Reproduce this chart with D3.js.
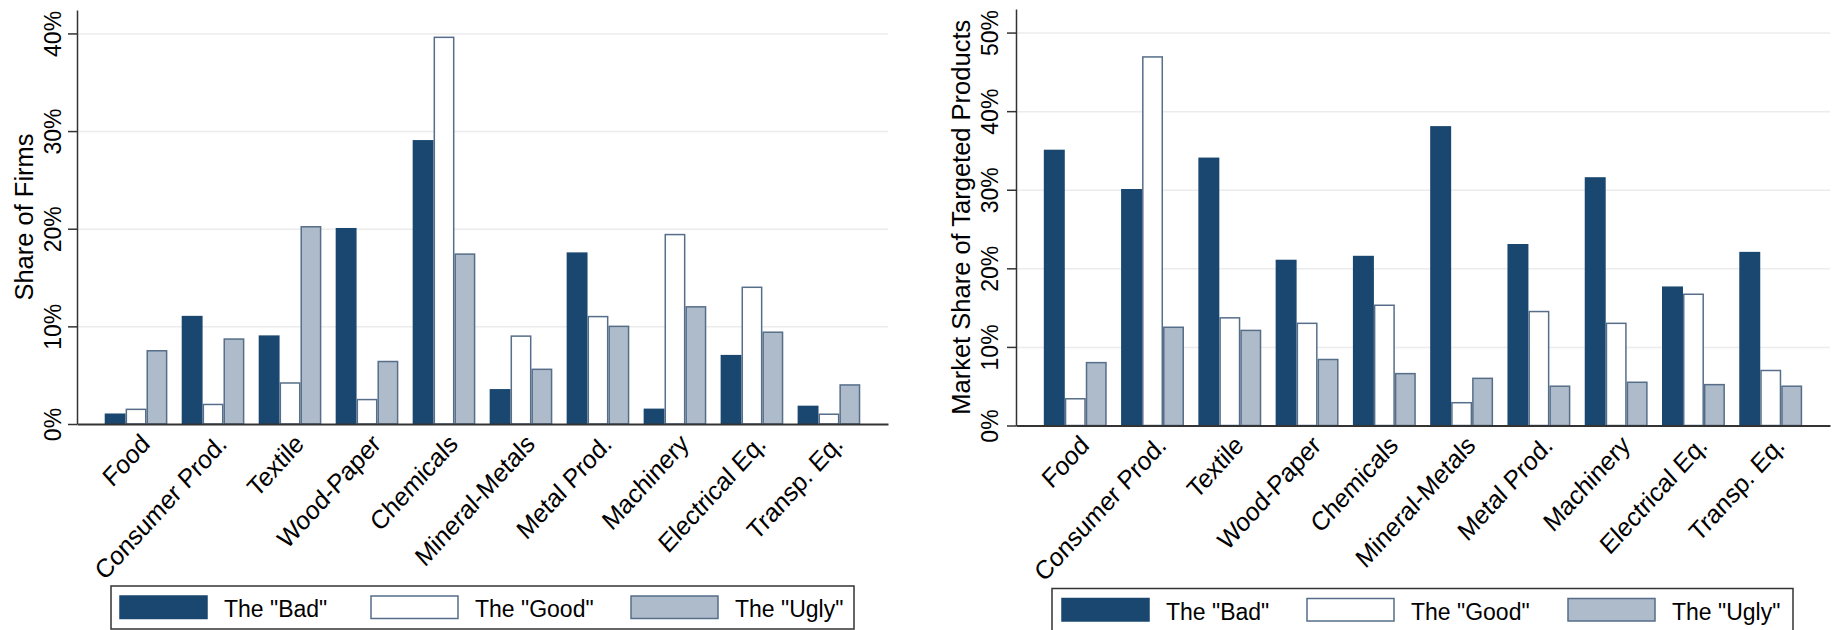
<!DOCTYPE html>
<html>
<head>
<meta charset="utf-8">
<script src="https://cdn.jsdelivr.net/npm/d3@7"></script>
<style>
  html, body { margin: 0; padding: 0; background: #fff; }
  svg { display: block; }
</style>
</head>
<body>
<div id="chart"></div>
<script>
// Sectors on the x axis (same for both panels)
var categories = ["Food", "Consumer Prod.", "Textile", "Wood-Paper", "Chemicals",
                  "Mineral-Metals", "Metal Prod.", "Machinery", "Electrical Eq.", "Transp. Eq."];
var seriesNames = ["The \"Bad\"", "The \"Good\"", "The \"Ugly\""];

// Left panel: share of firms (%)
var firmsBad  = [1.0, 11.0, 9.0, 20.0, 29.0, 3.5, 17.5, 1.5, 7.0, 1.8];
var firmsGood = [1.5, 2.0, 4.2, 2.5, 39.6, 9.0, 11.0, 19.4, 14.0, 1.0];
var firmsUgly = [7.5, 8.7, 20.2, 6.4, 17.4, 5.6, 10.0, 12.0, 9.4, 4.0];
var firmsTicks = [0, 10, 20, 30, 40];

// Right panel: market share of targeted products (%)
var marketBad  = [35.0, 30.0, 34.0, 21.0, 21.5, 38.0, 23.0, 31.5, 17.6, 22.0];
var marketGood = [3.4, 46.9, 13.7, 13.0, 15.3, 2.9, 14.5, 13.0, 16.7, 7.0];
var marketUgly = [8.0, 12.5, 12.1, 8.4, 6.6, 6.0, 5.0, 5.5, 5.2, 5.0];
var marketTicks = [0, 10, 20, 30, 40, 50];

var fills   = ["#1a476f", "#ffffff", "#aebbca"];
var strokes = ["#1a476f", "#566e89", "#566e89"];
var FONT = "Arial, 'Liberation Sans', sans-serif";

var svg = d3.select("#chart").append("svg")
    .attr("width", 1836)
    .attr("height", 630);

function drawPanel(opt) {
    var g = svg.append("g");

    var x = d3.scaleBand()
        .domain(categories)
        .range([opt.left, opt.right])
        .paddingInner(0.186)
        .paddingOuter(0.36);

    var xSub = d3.scaleBand()
        .domain([0, 1, 2])
        .range([0, x.bandwidth()]);

    var y = d3.scaleLinear()
        .domain([0, opt.yMax])
        .range([opt.bottom, opt.top]);

    // Grid
    g.append("g")
        .attr("transform", "translate(" + opt.left + ",0)")
        .call(d3.axisLeft(y).tickValues(opt.ticks.slice(1)).tickSize(-(opt.right - opt.left)).tickFormat(""))
        .call(function (s) { s.select(".domain").remove(); })
        .selectAll("line")
        .attr("stroke", "#ececec")
        .attr("stroke-width", 1.5);

    // Bars
    var series = [opt.bad, opt.good, opt.ugly];
    series.forEach(function (vals, si) {
        g.append("g").selectAll("rect")
            .data(vals)
            .enter().append("rect")
            .attr("x", function (d, i) { return x(categories[i]) + xSub(si) + 0.75; })
            .attr("y", function (d) { return y(d); })
            .attr("width", xSub.bandwidth() - 1.5)
            .attr("height", function (d) { return y(0) - y(d); })
            .attr("fill", fills[si])
            .attr("stroke", strokes[si])
            .attr("stroke-width", 1.5);
    });

    // Y axis
    var yAxis = g.append("g")
        .attr("transform", "translate(" + opt.left + ",0)")
        .call(d3.axisLeft(y).tickValues(opt.ticks).tickSize(9).tickSizeOuter(0)
            .tickFormat(function (d) { return d + "%"; }));
    yAxis.select(".domain").attr("stroke", "#333").attr("stroke-width", 1.5);
    yAxis.selectAll(".tick line").attr("stroke", "#333").attr("stroke-width", 1.5);
    yAxis.selectAll(".tick text")
        .attr("x", null).attr("dy", null)
        .attr("text-anchor", "middle")
        .attr("transform", "translate(" + opt.tickLabelOffset + ",0) rotate(-90)")
        .style("font-family", FONT)
        .style("font-size", "23px")
        .attr("fill", "#000");

    // X axis
    var xAxis = g.append("g")
        .attr("transform", "translate(0," + opt.bottom + ")")
        .call(d3.axisBottom(x).tickSize(0).tickSizeOuter(0));
    xAxis.select(".domain").attr("stroke", "#333").attr("stroke-width", 2);
    xAxis.selectAll(".tick text")
        .attr("y", null).attr("dy", "0.72em")
        .attr("text-anchor", "end")
        .attr("transform", "translate(3,8) scale(1,1.1) rotate(-45)")
        .style("font-family", FONT)
        .style("font-size", "24px")
        .attr("fill", "#000");

    // Y title
    g.append("text")
        .attr("transform", "translate(" + opt.titleX + "," + ((opt.top + opt.bottom) / 2) + ") rotate(-90)")
        .attr("text-anchor", "middle")
        .style("font-family", FONT)
        .style("font-size", "25.5px")
        .text(opt.title);

    // Legend
    var lg = g.append("g").attr("transform", "translate(" + opt.legX + "," + opt.legY + ")");
    lg.append("rect")
        .attr("width", opt.legW).attr("height", 43)
        .attr("fill", "#fff").attr("stroke", "#333").attr("stroke-width", 1.5);
    seriesNames.forEach(function (name, i) {
        var sx = opt.legItems[i];
        lg.append("rect")
            .attr("x", sx).attr("y", 10)
            .attr("width", 87).attr("height", 22.5)
            .attr("fill", fills[i])
            .attr("stroke", strokes[i]).attr("stroke-width", 1.5);
        lg.append("text")
            .attr("x", sx + 104).attr("y", 31)
            .style("font-family", FONT)
            .style("font-size", "23px")
            .text(name);
    });
}

drawPanel({
    left: 77, right: 888, top: 10, bottom: 424, yMax: 42.4,
    ticks: firmsTicks, bad: firmsBad, good: firmsGood, ugly: firmsUgly,
    title: "Share of Firms", titleX: 33, tickLabelOffset: -16,
    legX: 111, legY: 586, legW: 743, legItems: [9, 260, 520]
});

drawPanel({
    left: 1016, right: 1830, top: 9, bottom: 425.5, yMax: 53,
    ticks: marketTicks, bad: marketBad, good: marketGood, ugly: marketUgly,
    title: "Market Share of Targeted Products", titleX: 970, tickLabelOffset: -18,
    legX: 1052, legY: 588.5, legW: 741, legItems: [10, 255, 516]
});
</script>
</body>
</html>
